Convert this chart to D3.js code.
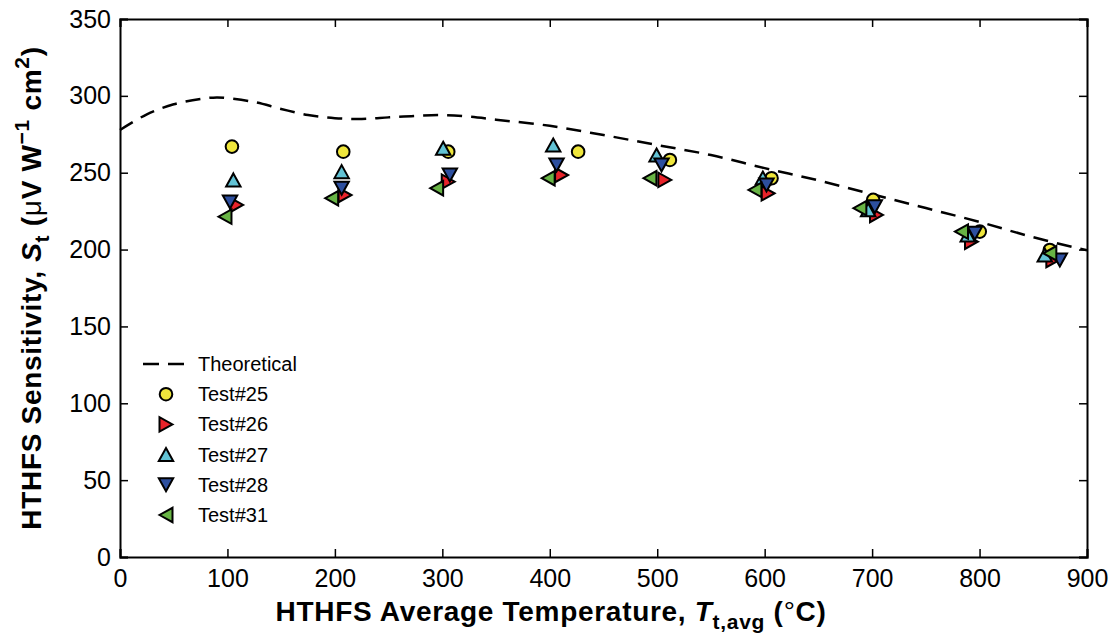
<!DOCTYPE html>
<html><head><meta charset="utf-8">
<script src="https://cdn.jsdelivr.net/npm/d3@7"></script>
<style>body{margin:0;background:#fff}</style>
</head><body><svg id="c" width="1114" height="639"></svg>
<script>
// ---- data ----
const theoT = [0, 25, 50, 75, 90, 100, 125, 150, 175, 200, 225, 250, 275, 300, 325, 350, 400, 450, 500, 550, 600, 650, 700, 750, 800, 850, 900];
const theoS = [277.8, 288, 294.5, 298, 299, 298.5, 296, 291.5, 287.5, 285.5, 285, 286, 287, 287.5, 286.5, 284.5, 280.5, 274.5, 268, 261.5, 253, 245, 236, 227, 218, 208, 199.5];
const t25T = [104.2, 207.8, 305.5, 426.4, 511.8, 606.4, 701, 800.2, 865.4];
const t25S = [267, 263.7, 263.7, 263.7, 258.3, 246.4, 232.3, 211.7, 199.7];
const t26T = [108.6, 209.4, 305.5, 411, 507.1, 603.2, 704.1, 792.5, 868.2];
const t26S = [229, 235.5, 244.2, 248.5, 245.3, 236.6, 222.5, 205.1, 193.2];
const t27T = [105.5, 206.3, 300.8, 403.2, 499.4, 598.3, 696.3, 789, 860.7];
const t27S = [245.3, 250.7, 265.9, 268, 261.5, 246.6, 225.9, 209.5, 196.5];
const t28T = [102.4, 206.3, 307, 406.3, 504, 601.7, 702.5, 795.6, 874.7];
const t28S = [231, 239.9, 248.5, 255, 255, 242, 227.9, 210.6, 193.2];
const t31T = [97.7, 197, 294.7, 398.5, 493.2, 590.9, 688.6, 783.2, 865.4];
const t31S = [221.4, 233.4, 239.9, 246.4, 246.4, 238.8, 226.9, 211.7, 197.6];
const seriesNames = ["Test#25", "Test#26", "Test#27", "Test#28", "Test#31"];
const xTicks = [0, 100, 200, 300, 400, 500, 600, 700, 800, 900];
const yTicks = [0, 50, 100, 150, 200, 250, 300, 350];

// ---- layout ----
const W = 1114, H = 639;
const m = {l: 120, r: 27, t: 19, b: 82};
const svg = d3.select("#c");
const x = d3.scaleLinear().domain([0, 900]).range([m.l, W - m.r]);
const y = d3.scaleLinear().domain([0, 350]).range([H - m.b, m.t]);
const font = "Arial, 'Liberation Sans', Helvetica, sans-serif";

// Axes: ticks inward, frame box
const tl = 8;
const gx = svg.append("g").attr("transform", `translate(0,${H - m.b})`)
  .call(d3.axisBottom(x).tickValues(xTicks).tickSize(-tl).tickPadding(12).tickFormat(d3.format("d")));
const gxt = svg.append("g").attr("transform", `translate(0,${m.t})`)
  .call(d3.axisTop(x).tickValues(xTicks).tickSize(-tl).tickFormat(""));
const gy = svg.append("g").attr("transform", `translate(${m.l},0)`)
  .call(d3.axisLeft(y).tickValues(yTicks).tickSize(-tl).tickPadding(9).tickFormat(d3.format("d")));
const gyr = svg.append("g").attr("transform", `translate(${W - m.r},0)`)
  .call(d3.axisRight(y).tickValues(yTicks).tickSize(-tl).tickFormat(""));
[gx, gxt, gy, gyr].forEach(g => {
  g.select(".domain").attr("stroke", "#000").attr("stroke-width", 2);
  g.selectAll(".tick line").attr("stroke", "#000").attr("stroke-width", 1.5);
  g.selectAll(".tick text").attr("font-family", font).attr("font-size", 25).attr("fill", "#000");
});
gx.selectAll(".tick text").attr("dy", "0.71em");

// theoretical line
const line = d3.line().x((d, i) => x(theoT[i])).y((d, i) => y(theoS[i])).curve(d3.curveCatmullRom.alpha(0.5));
svg.append("path").attr("d", line(theoS)).attr("fill", "none").attr("stroke", "#000")
  .attr("stroke-width", 2.5).attr("stroke-dasharray", "15,9");

// markers
function triPath(dir) {
  const a = 6.5, b = 7.2;
  let pts;
  if (dir === "up") pts = [[0, -a], [b, a], [-b, a]];
  else if (dir === "down") pts = [[0, a], [b, -a], [-b, -a]];
  else if (dir === "right") pts = [[a, 0], [-a, b], [-a, -b]];
  else pts = [[-a, 0], [a, b], [a, -b]];
  return "M" + pts.map(p => p.join(",")).join("L") + "Z";
}
const circlePath = d3.symbol().type(d3.symbolCircle).size(Math.PI * 6.3 * 6.3)();
const series = [
  {T: t25T, S: t25S, shape: "circle", color: "#efe63c"},
  {T: t26T, S: t26S, shape: "right", color: "#e8232a"},
  {T: t27T, S: t27S, shape: "up", color: "#62c3d5"},
  {T: t28T, S: t28S, shape: "down", color: "#2d4f9f"},
  {T: t31T, S: t31S, shape: "left", color: "#68b445"},
];
const shapePath = s => s === "circle" ? circlePath : triPath(s);
series.forEach(s => {
  svg.append("g").selectAll("path").data(s.S).join("path")
    .attr("d", shapePath(s.shape))
    .attr("transform", (d, i) => `translate(${x(s.T[i])},${y(d)})`)
    .attr("fill", s.color).attr("stroke", "#000").attr("stroke-width", 2).attr("stroke-linejoin", "miter");
});

// legend
const lg = svg.append("g");
const ly0 = 364, ldy = 30.2;
lg.append("line").attr("x1", 143).attr("x2", 188).attr("y1", ly0).attr("y2", ly0)
  .attr("stroke", "#000").attr("stroke-width", 2.5).attr("stroke-dasharray", "16,9");
lg.append("text").attr("x", 198).attr("y", ly0).attr("dy", "0.35em").attr("font-family", font)
  .attr("font-size", 20).text("Theoretical");
series.forEach((s, i) => {
  const yy = ly0 + ldy * (i + 1);
  lg.append("path").attr("d", shapePath(s.shape)).attr("transform", `translate(166,${yy})`)
    .attr("fill", s.color).attr("stroke", "#000").attr("stroke-width", 2);
  lg.append("text").attr("x", 198).attr("y", yy).attr("dy", "0.35em").attr("font-family", font)
    .attr("font-size", 20).text(seriesNames[i]);
});

// axis titles
const xt = svg.append("text").attr("x", 551).attr("y", 621).attr("text-anchor", "middle")
  .attr("font-family", font).attr("font-size", 28).attr("font-weight", "bold").attr("letter-spacing", 0.7);
xt.append("tspan").text("HTHFS Average Temperature, ");
xt.append("tspan").attr("font-style", "italic").text("T");
xt.append("tspan").attr("font-size", 21).attr("dy", 8).text("t,avg");
xt.append("tspan").attr("dy", -8).text(" (");
xt.append("tspan").attr("font-weight", "normal").text("°");
xt.append("tspan").text("C)");

const yt = svg.append("text").attr("transform", `translate(41,${(m.t + H - m.b) / 2}) rotate(-90)`)
  .attr("text-anchor", "middle").attr("font-family", font).attr("font-size", 28).attr("font-weight", "bold").attr("letter-spacing", 0.7);
yt.append("tspan").text("HTHFS Sensitivity, ");
yt.append("tspan").attr("font-style", "italic").text("S");
yt.append("tspan").attr("font-size", 21).attr("dy", 8).text("t");
yt.append("tspan").attr("dy", -8).text(" (");
yt.append("tspan").attr("font-weight", "normal").text("μ");
yt.append("tspan").text("V W");
yt.append("tspan").attr("font-size", 21).attr("dy", -12).text("−1");
yt.append("tspan").attr("dy", 12).text(" cm");
yt.append("tspan").attr("font-size", 21).attr("dy", -12).text("2");
yt.append("tspan").attr("dy", 12).text(")");
</script>
</body></html>
